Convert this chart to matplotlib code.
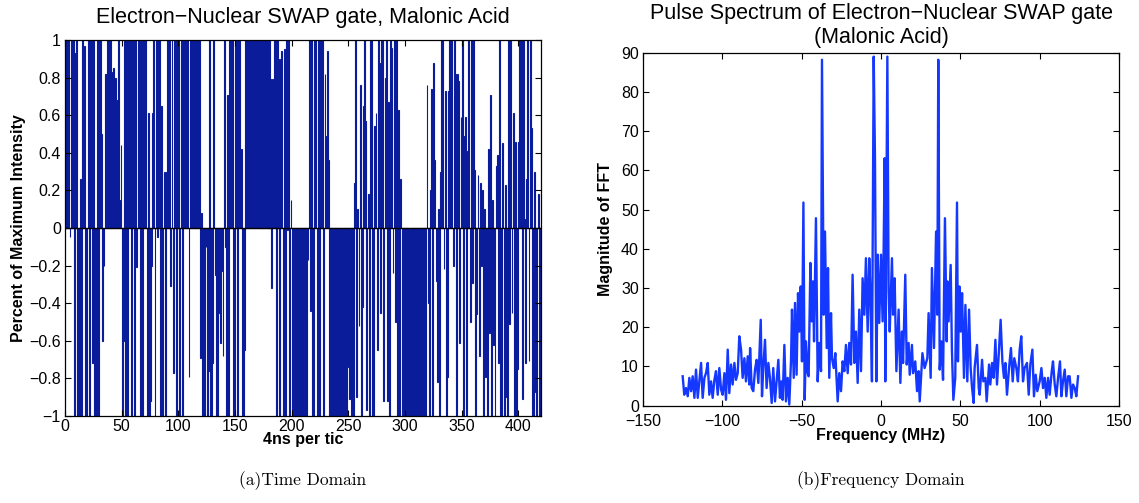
import numpy as np
import matplotlib
matplotlib.use("Agg")
import matplotlib.pyplot as plt

# time domain pulse, one value per 4 ns tic
pulse = [
    1, 1, 1, 1, -0.05, 1, 1, 1, -1, 0.93,
    1, -1, -1, 0.26, -1, 1, 0.96, 0.97, -1, -1,
    1, -1, 1, 1, -0.72, 1, -1, -1, 1, -1,
    1, 1, 0.5, -0.6, -0.2, 0.82, 0.82, 1, 1, 0.43,
    1, 0.83, 0.85, 0.44, 0.8, 0.2, 0.68, 1, 0.15, 0.44,
    -1, -0.6, 1, -1, 1, -1, 1, 1, -1, 1,
    1, -1, 1, -0.21, 1, 1, -1, 1, -1, 1,
    1, 1, -1, 0.61, -1, -0.92, -0.2, 0.61, 1, -1,
    1, -0.05, 1, 1, -1, 0.65, -1, 0.3, -1, 0.3,
    1, 1, 1, -0.31, 1, -0.77, 1, 1, -1, 1,
    1, -1, 1, -1, 1, 1, 1, 1, 1, -0.79,
    1, 1, 1, 1, 1, 1, 1, 1, 1, -0.69,
    0.08, -1, -0.3, -1, -0.1, -1, -0.76, 1, -1, -1,
    -0.72, 1, -0.25, -1, -1, -0.1, -0.45, -0.61, -0.23, -0.68,
    1, -0.1, -1, 0.71, -1, 1, 1, 1, -1, -1,
    1, 1, -1, 1, 1, 0.42, -1, -1, -0.65, 1,
    1, 1, 1, 1, 0.56, 1, 1, 1, 1, 1,
    1, 1, 1, 1, 1, 1, 1, 1, 1, 1,
    1, 0.79, -0.32, 0.79, 1, 1, -1, 1, 0.9, -1,
    0.9, 0.94, -1, 0.95, -1, 1, -0.01, 1, -1, 0.15,
    -1, -1, -1, -1, -1, -1, -1, -1, -1, -1,
    -1, -1, -1, -1, -0.17, 1, -0.44, 1, -1, -1,
    1, 1, -1, 1, -1, 1, 1, 1, -1, 0.82,
    0.49, 0.94, 0.36, -1, -1, -0.86, -1, -1, -1, -1,
    -1, -1, -1, -1, -1, -1, -1, -0.5, -1, -0.63,
    -0.74, -0.91, -1, -1, -1, 0.24, 1, -0.9, 0.1, -0.52,
    0.76, -1, -0.42, 0.65, 1, 0.57, -0.97, 0.18, -1, 1,
    1, -1, -1, 0.54, 0.61, -0.65, 1, 0.88, -0.45, 1,
    1, -0.92, 0.8, 1, -0.92, 0.67, -1, 1, 0.96, -0.24,
    1, -0.5, 1, -1, 0.63, -1, 0.26, -1, -1, -0.42,
    -1, -1, -1, -1, -1, -1, -1, -1, -1, -1,
    -1, -1, -1, -1, -0.9, -1, -1, -0.97, -1, 0.76,
    -0.4, -1, 0.2, 0.74, -1, 0.88, 0.36, -0.28, -0.82, 0.1,
    -1, 0.3, 1, 1, -0.22, 0.73, -1, -0.79, 0.73, 1,
    0.84, 1, -0.2, 1, 0.82, -1, 0.82, 0.78, -0.61, 0.59,
    1, -1, 0.49, 0.59, -1, 0.41, 1, -0.5, 1, -0.29,
    1, 0.31, -1, -0.46, 0.28, -0.68, 0.24, -0.2, 0.2, -1,
    0.1, -0.79, -1, 0.42, -0.56, 0.71, -1, 0.15, -0.62, -1,
    0.33, 0.39, -0.72, 1, -1, -1, 0.45, -1, 0.23, -0.9,
    -1, 1, -0.51, 1, -0.45, 0.61, -1, 0.46, -1, -0.75,
    0.46, 1, 1, -0.91, 1, 0.05, -0.72, 0.26, 1, -0.71,
    1, 0.53, -1, -1, 0.3, -0.87, -1, 0.18, -1, -1,
]

# pulse spectrum (MHz, |FFT|)
freq = [
    -125.0, -124.0, -122.9, -121.8, -120.8, -119.7, -118.7, -117.6, -116.6, -115.5,
    -114.5, -113.4, -112.4, -111.3, -110.3, -109.2, -108.2, -107.1, -106.1, -105.0,
    -104.0, -102.9, -101.9, -100.8, -99.8, -98.7, -97.7, -96.6, -95.6, -94.5,
    -93.5, -92.4, -91.4, -90.3, -89.3, -88.2, -87.2, -86.1, -85.1, -84.0,
    -83.0, -82.5, -81.5, -80.5, -79.4, -78.4, -77.3, -75.8, -75.0, -74.2,
    -73.1, -72.1, -71.0, -70.0, -68.9, -67.9, -66.8, -65.8, -64.7, -63.7,
    -62.8, -62.0, -60.9, -59.9, -58.8, -57.8, -56.7, -56.1, -55.0, -54.2,
    -53.2, -52.3, -51.5, -50.6, -49.8, -48.9, -48.1, -47.3, -46.2, -45.6,
    -44.5, -43.7, -42.9, -42.2, -41.0, -39.9, -38.9, -37.8, -37.2, -36.1,
    -35.3, -34.2, -33.4, -32.6, -31.5, -30.9, -29.8, -28.8, -27.3, -26.3,
    -25.2, -24.2, -23.1, -22.1, -21.0, -20.0, -18.9, -17.9, -16.8, -15.8,
    -14.7, -13.7, -12.6, -11.6, -10.5, -9.5, -8.4, -7.4, -6.7, -5.7,
    -4.6, -3.8, -2.9, -2.1, -1.1, 0.0, 1.0, 1.6, 2.3, 2.7,
    4.0, 4.8, 5.5, 6.9, 7.6, 8.6, 9.7, 11.1, 12.2, 13.2,
    13.9, 15.3, 16.2, 17.4, 18.1, 19.5, 20.2, 21.6, 22.7, 23.7,
    24.4, 26.1, 27.5, 29.2, 30.0, 31.3, 32.1, 33.4, 34.7, 35.5,
    36.1, 37.0, 38.0, 39.1, 40.3, 41.4, 41.8, 42.6, 43.9, 44.7,
    45.6, 46.8, 47.9, 48.5, 49.4, 50.2, 51.1, 52.3, 53.2, 54.4,
    55.5, 56.5, 57.4, 58.4, 59.0, 60.5, 61.6, 62.2, 63.7, 64.5,
    65.8, 66.6, 68.1, 68.9, 70.0, 71.0, 72.1, 73.1, 74.2, 75.4,
    76.5, 77.5, 78.4, 79.4, 80.7, 81.9, 83.0, 84.0, 85.3, 86.3,
    87.4, 88.4, 89.5, 90.5, 92.0, 93.1, 94.1, 95.4, 96.4, 97.5,
    98.5, 100.0, 101.1, 102.1, 103.2, 104.2, 105.3, 106.3, 107.6, 108.4,
    109.5, 110.5, 111.6, 112.8, 113.7, 114.7, 115.8, 116.8, 117.9, 118.9,
    120.0, 121.0, 122.1, 123.1, 124.2,
]
magnitude = [
    7.5, 2.8, 4.5, 2.4, 7.1, 3.7, 7.5, 2.0, 9.2, 2.0,
    6.2, 10.9, 2.0, 7.1, 8.3, 10.9, 2.8, 6.2, 2.0, 6.6,
    8.8, 2.8, 9.6, 4.1, 2.8, 8.3, 1.5, 14.3, 3.2, 10.5,
    5.4, 10.9, 6.6, 8.3, 17.7, 14.3, 7.1, 12.1, 6.2, 12.6,
    5.4, 14.7, 4.5, 3.7, 9.2, 11.7, 5.8, 21.9, 2.4, 9.6,
    16.8, 4.5, 10.9, 7.1, 0.7, 9.6, 1.1, 6.2, 11.7, 2.0,
    6.2, 1.5, 15.5, 1.1, 7.1, 0.3, 11.7, 24.5, 7.1, 26.2,
    7.9, 28.7, 18.9, 30.4, 11.3, 51.8, 1.5, 16.4, 8.3, 7.5,
    36.4, 21.5, 31.7, 16.4, 47.8, 6.2, 16.0, 8.8, 88.2, 23.2,
    44.4, 14.7, 35.1, 7.1, 23.6, 12.1, 9.6, 13.4, 1.1, 8.3,
    3.7, 11.3, 8.8, 15.5, 8.3, 16.0, 10.5, 33.4, 10.9, 18.9,
    5.8, 24.5, 8.8, 32.5, 23.2, 37.6, 18.9, 37.6, 29.1, 6.2,
    89.0, 63.1, 6.2, 38.5, 21.1, 38.5, 21.5, 37.6, 63.1, 6.2,
    89.0, 29.1, 18.9, 37.6, 23.2, 32.5, 8.8, 24.5, 5.8, 18.9,
    10.9, 33.4, 10.5, 16.0, 7.9, 15.5, 8.3, 11.3, 3.7, 8.8,
    1.1, 13.4, 9.6, 12.1, 23.6, 7.1, 35.1, 14.7, 44.4, 23.2,
    88.2, 9.2, 16.4, 6.6, 47.8, 16.4, 31.7, 21.5, 35.9, 14.3,
    1.5, 7.1, 51.8, 11.3, 30.4, 18.9, 28.7, 7.1, 25.7, 6.2,
    24.5, 9.6, 4.5, 0.7, 9.6, 15.5, 4.5, 2.8, 11.7, 6.2,
    7.1, 1.1, 10.5, 5.4, 10.9, 7.1, 16.8, 5.4, 13.0, 21.9,
    11.3, 7.1, 10.9, 2.8, 9.6, 14.7, 6.2, 12.1, 9.6, 6.2,
    14.3, 17.7, 6.2, 9.6, 10.9, 2.8, 10.5, 14.3, 2.4, 7.9,
    3.7, 6.2, 9.6, 4.5, 7.1, 2.0, 7.1, 2.8, 8.8, 11.3,
    5.4, 2.4, 7.1, 11.3, 2.4, 6.2, 9.2, 2.4, 7.5, 7.5,
    2.0, 5.4, 4.5, 2.4, 7.5,
]

x_ticks_time = [0, 50, 100, 150, 200, 250, 300, 350, 400]
y_ticks_time = [-1, -0.8, -0.6, -0.4, -0.2, 0, 0.2, 0.4, 0.6, 0.8, 1]
x_ticks_freq = [-150, -100, -50, 0, 50, 100, 150]
y_ticks_freq = [0, 10, 20, 30, 40, 50, 60, 70, 80, 90]

SANS = ["Liberation Sans", "DejaVu Sans"]
plt.rcParams["font.family"] = SANS

BAR_COLOR = "#0a1c9a"
LINE_COLOR = "#1438ff"
TICK_SIZE = 11.5
LABEL_SIZE = 11.5
TITLE_SIZE = 15.5


def style_axes(ax, xpad=3):
    ax.tick_params(direction="in", top=True, right=True, length=4,
                   width=0.8, labelsize=TICK_SIZE)
    ax.tick_params(axis="x", pad=xpad)
    ax.tick_params(axis="y", pad=3)
    for sp in ax.spines.values():
        sp.set_linewidth(0.9)


def fmt(v):
    return ("%g" % v).replace("-", "\u2212")


fig = plt.figure(figsize=(11.39, 5.03), dpi=100)

# (a) time domain
ax1 = fig.add_axes([65 / 1139, 1 - 416 / 503, 476 / 1139, 376 / 503])
tics = np.arange(len(pulse))
ax1.bar(tics, pulse, width=0.85, align="edge", color=BAR_COLOR,
        edgecolor=BAR_COLOR, linewidth=0.8)
ax1.axhline(0, color="black", lw=1.0)
ax1.set_xlim(0, len(pulse))
ax1.set_ylim(-1, 1)
ax1.set_xticks(x_ticks_time)
ax1.set_yticks(y_ticks_time)
ax1.set_yticklabels([fmt(v) for v in y_ticks_time])
style_axes(ax1, xpad=2)
ax1.set_title("Electron\u2212Nuclear SWAP gate, Malonic Acid",
              fontsize=TITLE_SIZE, pad=12)
ax1.set_xlabel("4ns per tic", fontsize=LABEL_SIZE, fontweight="bold",
               labelpad=-1)
ax1.set_ylabel("Percent of Maximum Intensity", fontsize=LABEL_SIZE,
               fontweight="bold", labelpad=2)

# (b) frequency domain
ax2 = fig.add_axes([643 / 1139, 1 - 405.7 / 503, 476 / 1139, 353 / 503])
ax2.plot(freq, magnitude, color=LINE_COLOR, lw=1.7)
ax2.set_xlim(-150, 150)
ax2.set_ylim(0, 90)
ax2.set_xticks(x_ticks_freq)
ax2.set_xticklabels([fmt(v) for v in x_ticks_freq])
ax2.set_yticks(y_ticks_freq)
style_axes(ax2, xpad=6)
ax2.set_title("Pulse Spectrum of Electron\u2212Nuclear SWAP gate\n(Malonic Acid)",
              fontsize=TITLE_SIZE, pad=7, linespacing=1.2)
ax2.set_xlabel("Frequency (MHz)", fontsize=LABEL_SIZE, fontweight="bold",
               labelpad=-1)
ax2.set_ylabel("Magnitude of FFT", fontsize=LABEL_SIZE, fontweight="bold",
               labelpad=6)

fig.text(303 / 1139, 1 - 481 / 503, "(a)Time Domain", family="cmr10",
         fontsize=12.5, ha="center", va="center")
fig.text(881 / 1139, 1 - 481 / 503, "(b)Frequency Domain", family="cmr10",
         fontsize=12.5, ha="center", va="center")

fig.savefig("out.png", dpi=100)
